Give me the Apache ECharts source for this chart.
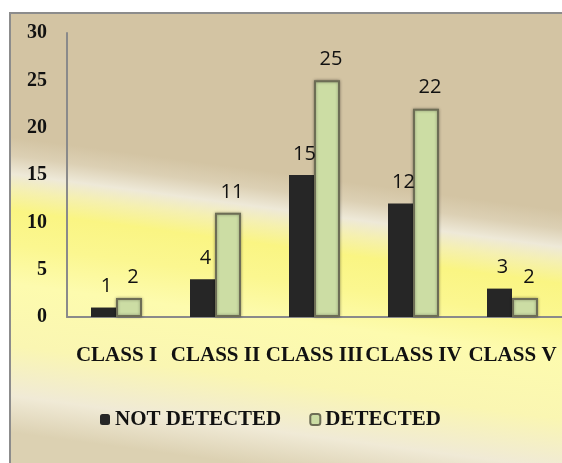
<!DOCTYPE html>
<html>
<head>
<meta charset="utf-8">
<script src="https://cdn.jsdelivr.net/npm/echarts@6/dist/echarts.min.js"></script>
<style>
  html, body { margin: 0; padding: 0; background: #fff; }
  #chart { width: 562px; height: 463px; }
</style>
</head>
<body>
<div id="chart"></div>
<script>
// data
var categories = ['CLASS I', 'CLASS II', 'CLASS III', 'CLASS IV', 'CLASS V'];
var notDetected = [1, 4, 15, 12, 3];
var detected = [2, 11, 25, 22, 2];
var yTicks = [0, 5, 10, 15, 20, 25, 30];

var myChart = echarts.init(document.getElementById('chart'));

var serif = 'Liberation Serif';

// background panel: tan on top, pale band, yellow, beige at the bottom (band tilts up to the left)
var panelFill = {
    type: 'linear', x: 300, y: 13, x2: 240, y2: 463, global: true,
    colorStops: [
        { offset: 0, color: '#D3C4A3' },
        { offset: 0.355, color: '#D3C4A3' },
        { offset: 0.395, color: '#DCD0B4' },
        { offset: 0.435, color: '#EEE9D8' },
        { offset: 0.47, color: '#F5F0B0' },
        { offset: 0.515, color: '#FAF583' },
        { offset: 0.59, color: '#FBF790' },
        { offset: 0.675, color: '#FDFBAE' },
        { offset: 0.81, color: '#FAF6B2' },
        { offset: 0.92, color: '#F0EAD6' },
        { offset: 1, color: '#DCD1B2' }
    ]
};

var option = {
    animation: false,
    graphic: [{
        type: 'rect',
        z: -10,
        shape: { x: 10, y: 13, width: 570, height: 460 },
        style: {
            stroke: '#8c8c8c',
            lineWidth: 2,
            fill: panelFill
        }
    }],
    grid: {
        left: 67,
        right: 0,
        top: 33,
        bottom: 146
    },
    legend: {
        left: 95,
        top: 404,
        itemWidth: 10,
        itemHeight: 11,
        itemGap: 28,
        textStyle: {
            fontFamily: serif,
            fontWeight: 'bold',
            fontSize: 21,
            color: '#111'
        },
        data: ['NOT DETECTED', 'DETECTED']
    },
    xAxis: {
        type: 'category',
        data: categories,
        axisLine: { lineStyle: { color: '#8a8a8a', width: 2 } },
        axisTick: { show: false },
        axisLabel: {
            margin: 28,
            fontFamily: serif,
            fontWeight: 'bold',
            fontSize: 21,
            color: '#111',
            interval: 0
        }
    },
    yAxis: {
        type: 'value',
        min: yTicks[0],
        max: yTicks[yTicks.length - 1],
        interval: 5,
        splitLine: { show: false },
        axisTick: { show: false },
        axisLine: { show: true, lineStyle: { color: '#8a8a8a', width: 2 } },
        axisLabel: {
            margin: 20,
            fontFamily: serif,
            fontWeight: 'bold',
            fontSize: 20,
            color: '#111'
        }
    },
    series: [
        {
            name: 'NOT DETECTED',
            type: 'bar',
            barWidth: 25,
            barGap: '0%',
            data: notDetected,
            itemStyle: { color: '#262626' },
            label: {
                show: true,
                position: 'top',
                distance: 11,
                offset: [3, 0],
                fontFamily: 'Open Sans',
                fontSize: 20,
                color: '#111'
            }
        },
        {
            name: 'DETECTED',
            type: 'bar',
            barWidth: 26,
            data: detected,
            itemStyle: {
                color: '#CCDDA4',
                borderColor: '#6d6d55',
                borderWidth: 2,
                shadowBlur: 3,
                shadowColor: 'rgba(0,0,0,0.35)'
            },
            label: {
                show: true,
                position: 'top',
                distance: 11,
                offset: [4, 0],
                fontFamily: 'Open Sans',
                fontSize: 20,
                color: '#111'
            }
        }
    ]
};

myChart.setOption(option);
window.addEventListener('resize', function () {
    myChart.resize();
});
</script>
</body>
</html>
